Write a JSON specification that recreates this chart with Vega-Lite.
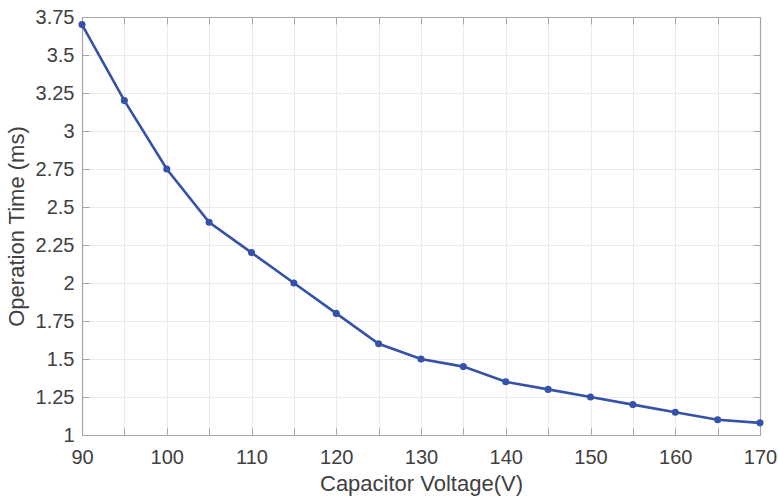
{
  "$schema": "https://vega.github.io/schema/vega-lite/v6.json",
  "width": 678,
  "height": 418,
  "autosize": {"type": "none"},
  "padding": {"left": 82, "top": 17, "right": 18, "bottom": 62},
  "background": "white",
  "config": {
    "view": {"stroke": null},
    "font": "Liberation Sans",
    "axis": {
      "labelFont": "Liberation Sans",
      "titleFont": "Liberation Sans",
      "labelColor": "#404040",
      "titleColor": "#404040",
      "labelFontSize": 20,
      "titleFontSize": 22,
      "titleFontWeight": "normal",
      "domainColor": "#a6a6a6",
      "tickColor": "#a6a6a6",
      "gridColor": "#ebebeb",
      "gridWidth": 1,
      "domainWidth": 1.2
    }
  },
  "data": {
    "values": [
      {"v": 90, "t": 3.7},
      {"v": 95, "t": 3.2},
      {"v": 100, "t": 2.75},
      {"v": 105, "t": 2.4},
      {"v": 110, "t": 2.2},
      {"v": 115, "t": 2.0},
      {"v": 120, "t": 1.8},
      {"v": 125, "t": 1.6},
      {"v": 130, "t": 1.5},
      {"v": 135, "t": 1.45},
      {"v": 140, "t": 1.35},
      {"v": 145, "t": 1.3},
      {"v": 150, "t": 1.25},
      {"v": 155, "t": 1.2},
      {"v": 160, "t": 1.15},
      {"v": 165, "t": 1.1},
      {"v": 170, "t": 1.08}
    ]
  },
  "resolve": {"axis": {"x": "independent", "y": "independent"}},
  "layer": [
    {
      "mark": {"type": "line", "color": "#3552a8", "strokeWidth": 2.6},
      "encoding": {
        "x": {
          "field": "v", "type": "quantitative",
          "scale": {"domain": [90, 170], "nice": false, "zero": false},
          "axis": {
            "orient": "bottom",
            "title": "Capacitor Voltage(V)",
            "values": [90,95,100,105,110,115,120,125,130,135,140,145,150,155,160,165,170],
            "labelExpr": "datum.value % 10 === 0 ? datum.label : ''",
            "tickSize": -7,
            "labelPadding": 19,
            "titlePadding": 6,
            "labelFlush": false,
            "grid": true
          }
        },
        "y": {
          "field": "t", "type": "quantitative",
          "scale": {"domain": [1, 3.75], "nice": false, "zero": false},
          "axis": {
            "orient": "left",
            "title": "Operation Time (ms)",
            "values": [1,1.25,1.5,1.75,2,2.25,2.5,2.75,3,3.25,3.5,3.75],
            "labelExpr": "'' + datum.value",
            "tickSize": -7,
            "labelPadding": 15,
            "titlePadding": 7,
            "labelFlush": false,
            "grid": true
          }
        }
      }
    },
    {
      "mark": {"type": "point", "filled": true, "color": "#3552a8", "size": 50, "opacity": 1},
      "encoding": {
        "x": {
          "field": "v", "type": "quantitative",
          "scale": {"domain": [90, 170], "nice": false, "zero": false},
          "axis": {
            "orient": "top",
            "title": null,
            "values": [90,95,100,105,110,115,120,125,130,135,140,145,150,155,160,165,170],
            "labels": false,
            "tickSize": -7,
            "grid": false
          }
        },
        "y": {
          "field": "t", "type": "quantitative",
          "scale": {"domain": [1, 3.75], "nice": false, "zero": false},
          "axis": {
            "orient": "right",
            "title": null,
            "values": [1,1.25,1.5,1.75,2,2.25,2.5,2.75,3,3.25,3.5,3.75],
            "labels": false,
            "tickSize": -7,
            "grid": false
          }
        }
      }
    }
  ]
}
